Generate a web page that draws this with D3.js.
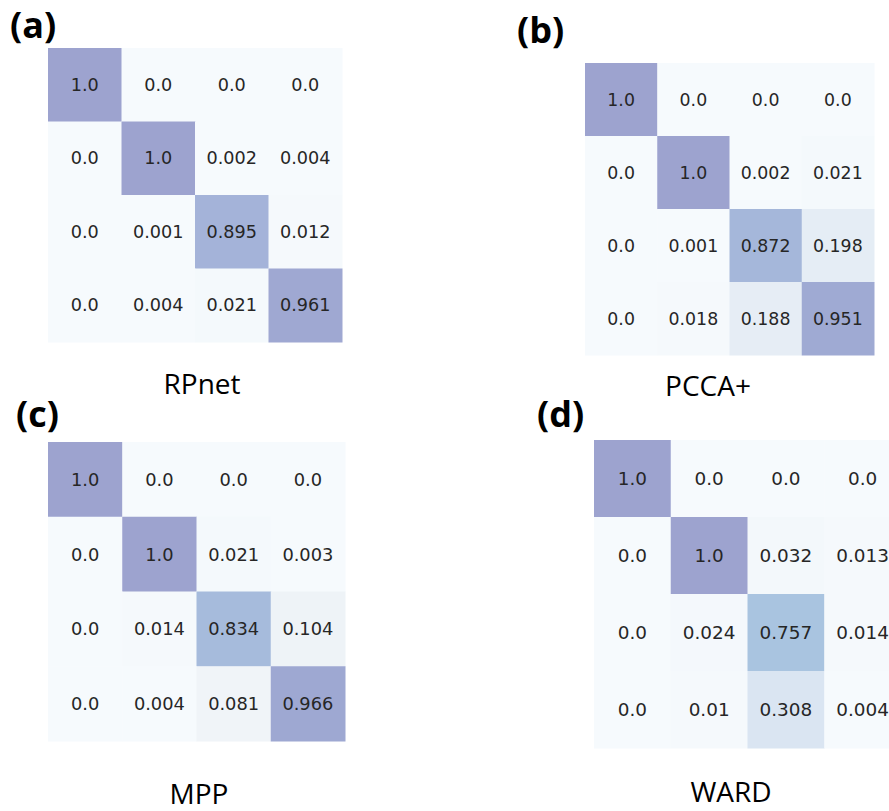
<!DOCTYPE html>
<html>
<head>
<meta charset="utf-8">
<script src="https://cdn.jsdelivr.net/npm/d3@7"></script>
<style>
  html, body { margin: 0; padding: 0; background: #ffffff; overflow: hidden; }
  svg { display: block; }
</style>
</head>
<body>
<svg id="chart" width="889" height="811"></svg>
<script>
// ---- data ----
const classes = [0, 1, 2, 3];
const panelLetters = ["(a)", "(b)", "(c)", "(d)"];
const methodNames = ["RPnet", "PCCA+", "MPP", "WARD"];

const rpnetValues = [
  ["1.0", "0.0", "0.0", "0.0"],
  ["0.0", "1.0", "0.002", "0.004"],
  ["0.0", "0.001", "0.895", "0.012"],
  ["0.0", "0.004", "0.021", "0.961"]
];
const pccaValues = [
  ["1.0", "0.0", "0.0", "0.0"],
  ["0.0", "1.0", "0.002", "0.021"],
  ["0.0", "0.001", "0.872", "0.198"],
  ["0.0", "0.018", "0.188", "0.951"]
];
const mppValues = [
  ["1.0", "0.0", "0.0", "0.0"],
  ["0.0", "1.0", "0.021", "0.003"],
  ["0.0", "0.014", "0.834", "0.104"],
  ["0.0", "0.004", "0.081", "0.966"]
];
const wardValues = [
  ["1.0", "0.0", "0.0", "0.0"],
  ["0.0", "1.0", "0.032", "0.013"],
  ["0.0", "0.024", "0.757", "0.014"],
  ["0.0", "0.01", "0.308", "0.004"]
];
const matrices = [rpnetValues, pccaValues, mppValues, wardValues];

// ---- layout (positions/sizes) ----
const layouts = [
  { x: 48,  y: 48,  w: 294, h: 294, lx: 10,  ly: 38,  tx: 202, ty: 394 },
  { x: 585, y: 63,  w: 289, h: 292, lx: 517, ly: 43,  tx: 708, ty: 396 },
  { x: 48,  y: 442, w: 297, h: 299, lx: 16,  ly: 427, tx: 199, ty: 804 },
  { x: 594, y: 440, w: 307, h: 308, lx: 537, ly: 427, tx: 731, ty: 802 }
];

const color = d3.scaleLinear()
  .domain([0, 0.1, 0.3, 0.75, 0.88, 0.95, 1.0])
  .range(["#f6fafd", "#eef3f7", "#dbe6f2", "#a9c5e0", "#a5b6da", "#9faad3", "#9da3cf"])
  .clamp(true);

const svg = d3.select("#chart");

matrices.forEach((mat, pi) => {
  const L = layouts[pi];
  const g = svg.append("g");

  const x = d3.scaleBand().domain(classes).range([L.x, L.x + L.w]);
  const y = d3.scaleBand().domain(classes).range([L.y, L.y + L.h]);

  const cells = [];
  mat.forEach((row, r) => row.forEach((v, c) => cells.push({ r, c, label: v, value: +v })));

  g.selectAll("rect.cell").data(cells).enter().append("rect")
    .attr("class", "cell")
    .attr("x", d => x(d.c))
    .attr("y", d => y(d.r))
    .attr("width", x.bandwidth() + 0.5)
    .attr("height", y.bandwidth() + 0.5)
    .attr("fill", d => color(d.value));

  const fs = x.bandwidth() * 0.24;
  g.selectAll("text.val").data(cells).enter().append("text")
    .attr("class", "val")
    .attr("x", d => x(d.c) + x.bandwidth() / 2)
    .attr("y", d => y(d.r) + y.bandwidth() / 2)
    .attr("text-anchor", "middle")
    .attr("dominant-baseline", "central")
    .attr("font-family", "DejaVu Sans, sans-serif")
    .attr("font-size", fs)
    .attr("fill", "#262626")
    .text(d => d.label);

  g.append("text")
    .attr("x", L.lx)
    .attr("y", L.ly)
    .attr("font-family", "Open Sans, sans-serif")
    .attr("font-weight", "bold")
    .attr("font-size", 36)
    .attr("fill", "#000")
    .text(panelLetters[pi]);

  g.append("text")
    .attr("x", L.tx)
    .attr("y", L.ty)
    .attr("text-anchor", "middle")
    .attr("font-family", "Open Sans, sans-serif")
    .attr("font-size", 28)
    .attr("fill", "#000")
    .text(methodNames[pi]);
});
</script>
</body>
</html>
